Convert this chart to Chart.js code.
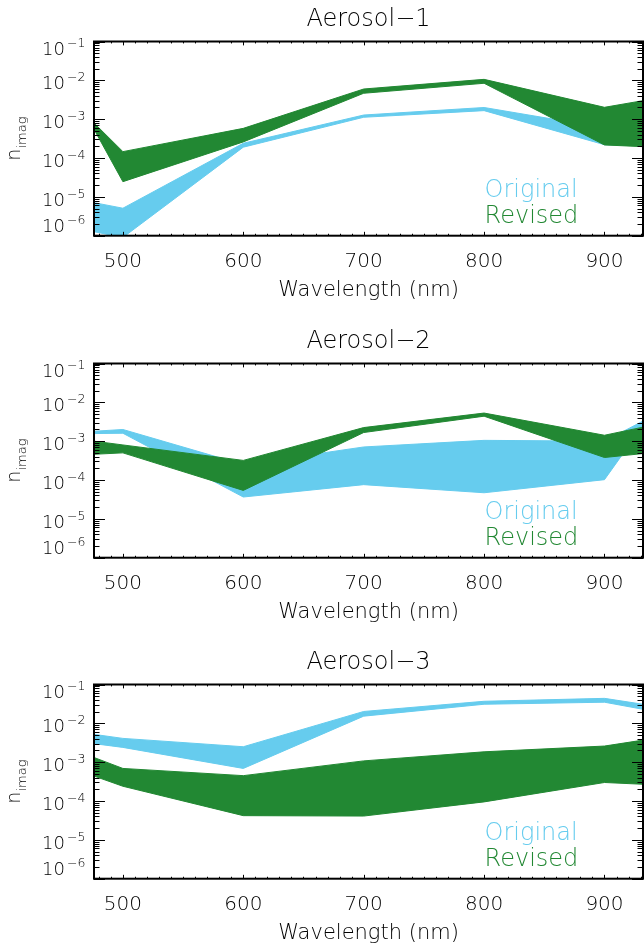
<!DOCTYPE html>
<html>
<head>
<meta charset="utf-8">
<script src="https://cdn.jsdelivr.net/npm/chart.js@4.4.1/dist/chart.umd.min.js"></script>
<style>
  html, body { margin: 0; padding: 0; background: #fff; }
  body { width: 644px; height: 950px; position: relative; overflow: hidden; }
  .panel { position: absolute; left: 0; width: 644px; height: 307px; }
</style>
</head>
<body>
<div class="panel" style="top:0px"><canvas id="c1" width="644" height="307"></canvas></div>
<div class="panel" style="top:322px"><canvas id="c2" width="644" height="307"></canvas></div>
<div class="panel" style="top:643px"><canvas id="c3" width="644" height="307"></canvas></div>
<script>
// Wavelength grid (nm) shared by every panel
const wavelengths = [476, 500, 600, 700, 800, 900, 932];

// Aerosol-1: imaginary refractive index ranges
const origUpper1 = [7.1e-6, 5.1e-6, 2.4e-4, 1.28e-3, 2.0e-3, 6.0e-4, 4.0e-4];
const origLower1 = [1.27e-6, 9.0e-7, 1.9e-4, 1.12e-3, 1.66e-3, 2.2e-4, 2.1e-4];
const revUpper1  = [8.0e-4, 1.46e-4, 5.8e-4, 5.98e-3, 1.06e-2, 2.02e-3, 3.0e-3];
const revLower1  = [5.5e-4, 2.46e-5, 2.6e-4, 4.65e-3, 8.4e-3, 2.17e-4, 1.96e-4];

// Aerosol-2
const origUpper2 = [1.8e-3, 2.0e-3, 2.5e-4, 7.1e-4, 1.05e-3, 1.0e-3, 3.3e-3];
const origLower2 = [1.57e-3, 1.6e-3, 3.65e-5, 7.6e-5, 4.7e-5, 1.02e-4, 2.5e-3];
const revUpper2  = [1.0e-3, 8.0e-4, 3.2e-4, 2.24e-3, 5.3e-3, 1.42e-3, 2.3e-3];
const revLower2  = [4.6e-4, 5.0e-4, 5.4e-5, 1.67e-3, 4.4e-3, 3.8e-4, 4.8e-4];

// Aerosol-3
const origUpper3 = [5.2e-3, 4.1e-3, 2.5e-3, 2.02e-2, 3.7e-2, 4.4e-2, 3.1e-2];
const origLower3 = [3.0e-3, 2.4e-3, 6.9e-4, 1.53e-2, 3.1e-2, 3.5e-2, 2.3e-2];
const revUpper3  = [1.32e-3, 6.9e-4, 4.5e-4, 1.08e-3, 1.85e-3, 2.6e-3, 3.7e-3];
const revLower3  = [4.4e-4, 2.4e-4, 4.2e-5, 4.1e-5, 9.5e-5, 3.0e-4, 2.7e-4];

// Axis ticks and labels
const xTickValues = [500, 600, 700, 800, 900];
const yTickValues = [1e-1, 1e-2, 1e-3, 1e-4, 1e-5, 1e-6];
const panelTitles = ['Aerosol\u22121', 'Aerosol\u22122', 'Aerosol\u22123'];
const seriesNames = ['Original', 'Revised'];

const BLUE = '#66CCEE';
const GREEN = '#228833';
const FONT = '"DejaVu Sans", sans-serif';
const W = 200; // light stroke weight for all text

function pts(vals) {
  return wavelengths.map((w, i) => ({ x: w, y: vals[i] }));
}

// Inward-pointing ticks on all four sides plus a closed frame
const frameTicks = {
  id: 'frameTicks',
  afterDatasetsDraw(chart) {
    const { ctx, chartArea: a, scales: { x, y } } = chart;
    const h = a.bottom - a.top, w = a.right - a.left;
    const xMaj = 0.02 * h, xMin = 0.01 * h, yMaj = 0.02 * w, yMin = 0.01 * w;
    ctx.save();
    ctx.strokeStyle = '#000';
    ctx.lineWidth = 1;
    ctx.beginPath();
    for (let v = Math.ceil(x.min / 10) * 10; v <= x.max; v += 10) {
      const px = Math.round(x.getPixelForValue(v)) + 0.5;
      const len = v % 100 === 0 ? xMaj : xMin;
      ctx.moveTo(px, a.bottom); ctx.lineTo(px, a.bottom - len);
      ctx.moveTo(px, a.top); ctx.lineTo(px, a.top + len);
    }
    for (let e = -7; e <= 0; e++) {
      for (let k = 1; k <= 9; k++) {
        const v = k * Math.pow(10, e);
        if (v < y.min * 0.999 || v > y.max * 1.001) continue;
        const py = Math.round(y.getPixelForValue(v)) + 0.5;
        const len = k === 1 ? yMaj : yMin;
        ctx.moveTo(a.left, py); ctx.lineTo(a.left + len, py);
        ctx.moveTo(a.right, py); ctx.lineTo(a.right - len, py);
      }
    }
    ctx.stroke();
    ctx.lineWidth = 2;
    ctx.strokeRect(a.left, a.top, w, h);
    ctx.restore();
  }
};

// Tick labels (x values, powers of ten on y), y axis title with subscript, series key
const annotations = {
  id: 'annotations',
  afterDraw(chart) {
    const { ctx, chartArea: a, scales: { x, y } } = chart;
    ctx.save();
    ctx.fillStyle = '#000';
    // x tick labels
    ctx.font = `${W} 20px ${FONT}`;
    ctx.textAlign = 'center';
    ctx.textBaseline = 'alphabetic';
    x.ticks.forEach(t => {
      ctx.fillText(String(t.value), x.getPixelForValue(t.value), a.bottom + 24.3 + 7.3);
    });
    // y tick labels: "10" with superscript exponent
    y.ticks.forEach(t => {
      const exp = Math.round(Math.log10(t.value));
      const py = y.getPixelForValue(t.value);
      const cy = Math.min(Math.max(py + 2.5, a.top + 7), a.bottom - 10.5);
      ctx.font = `${W} 18px ${FONT}`;
      ctx.textAlign = 'right';
      ctx.fillText('10', 65, cy + 6.5);
      ctx.font = `${W} 12.5px ${FONT}`;
      ctx.textAlign = 'left';
      ctx.fillText('\u2212' + Math.abs(exp), 67, cy - 1.5);
    });
    // y axis title n_imag, rotated
    const cyT = (a.top + a.bottom) / 2;
    ctx.translate(20, cyT);
    ctx.rotate(-Math.PI / 2);
    ctx.font = `${W} 19px ${FONT}`;
    const wn = ctx.measureText('n').width;
    ctx.font = `${W} 13px ${FONT}`;
    const ws = ctx.measureText('imag').width;
    const x0 = -(wn + ws) / 2;
    ctx.textAlign = 'left';
    ctx.font = `${W} 19px ${FONT}`;
    ctx.fillText('n', x0, 0);
    ctx.font = `${W} 13px ${FONT}`;
    ctx.fillText('imag', x0 + wn, 5.5);
    ctx.setTransform(1, 0, 0, 1, 0, 0);
    // series key inside the plot
    ctx.font = `${W} 24px ${FONT}`;
    ctx.textAlign = 'left';
    ctx.fillStyle = BLUE;
    ctx.fillText(seriesNames[0], a.left + 390.6, a.bottom - 39);
    ctx.fillStyle = GREEN;
    ctx.fillText(seriesNames[1], a.left + 390.6, a.bottom - 13);
    ctx.restore();
  }
};

function band(upper, lower, color) {
  return [
    { data: pts(upper), borderColor: color, backgroundColor: color, borderWidth: 1,
      pointRadius: 0, fill: '+1', tension: 0 },
    { data: pts(lower), borderColor: color, backgroundColor: color, borderWidth: 1,
      pointRadius: 0, fill: false, tension: 0 }
  ];
}

function makeChart(id, title, oU, oL, rU, rL) {
  const canvasH = 307;
  return new Chart(document.getElementById(id), {
    type: 'line',
    data: {
      // revised band first so it is painted over the original band
      datasets: [...band(rU, rL, GREEN), ...band(oU, oL, BLUE)]
    },
    options: {
      responsive: false,
      animation: false,
      events: [],
      layout: { padding: { left: 0, right: 1, top: 0, bottom: 0 } },
      plugins: {
        legend: { display: false },
        tooltip: { enabled: false },
        title: {
          display: true, text: title, fullSize: false, color: '#000',
          font: { family: FONT, size: 24, weight: W, lineHeight: 1.2 },
          padding: { top: 5.6, bottom: 7.1 }
        }
      },
      scales: {
        x: {
          type: 'linear', min: wavelengths[0], max: wavelengths[wavelengths.length - 1],
          grid: { display: false }, border: { display: false },
          afterBuildTicks: s => { s.ticks = xTickValues.map(v => ({ value: v })); },
          afterFit: s => { s.height = canvasH - 235.7; },
          ticks: { display: false },
          title: { display: true, text: 'Wavelength (nm)', color: '#000',
                   font: { family: FONT, size: 21, weight: W, lineHeight: 1.2 },
                   padding: { top: 0, bottom: 4 } }
        },
        y: {
          type: 'logarithmic', min: 1e-6, max: 1e-1,
          grid: { display: false }, border: { display: false },
          afterBuildTicks: s => { s.ticks = yTickValues.map(v => ({ value: v })); },
          afterFit: s => { s.width = 94; },
          ticks: { display: false }
        }
      }
    },
    plugins: [frameTicks, annotations]
  });
}

makeChart('c1', panelTitles[0], origUpper1, origLower1, revUpper1, revLower1);
makeChart('c2', panelTitles[1], origUpper2, origLower2, revUpper2, revLower2);
makeChart('c3', panelTitles[2], origUpper3, origLower3, revUpper3, revLower3);
</script>
</body>
</html>
